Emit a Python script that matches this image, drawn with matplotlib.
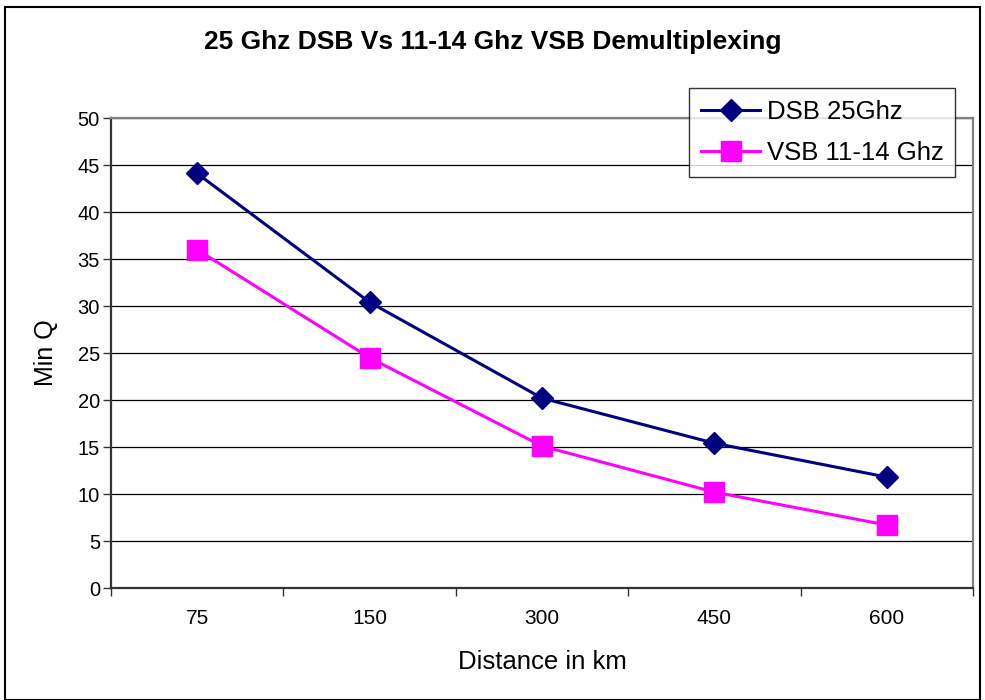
import numpy as np
import matplotlib.pyplot as plt

plt.rcParams['font.family'] = ['Liberation Sans', 'DejaVu Sans']

distances = ['75', '150', '300', '450', '600']
dsb_25ghz = [44.1, 30.4, 20.2, 15.4, 11.8]
vsb_11_14ghz = [36.0, 24.5, 15.1, 10.2, 6.7]

fig = plt.figure(figsize=(9.85, 7.0), dpi=100)
ax = fig.add_axes([0.1127, 0.16, 0.8751, 0.6714])

x = np.arange(len(distances))
ax.plot(x, dsb_25ghz, color='#000080', lw=2.2, marker='D', ms=11,
        label='DSB 25Ghz', zorder=3)
ax.plot(x, vsb_11_14ghz, color='#FF00FF', lw=2.2, marker='s', ms=14,
        label='VSB 11-14 Ghz', zorder=3)

ax.set_xlim(-0.5, len(distances) - 0.5)
ax.set_ylim(0, 50)
ax.set_yticks(np.arange(0, 51, 5))
ax.yaxis.grid(True, color='black', lw=0.9)
ax.set_axisbelow(True)

# labels at category centres, ticks at the boundaries
ax.set_xticks(x)
ax.set_xticklabels(distances)
ax.set_xticks(np.arange(-0.5, len(distances)), minor=True)
ax.tick_params(axis='x', which='major', length=0, pad=15, labelsize=15)
ax.tick_params(axis='x', which='minor', length=6, width=1, color='#333333')
ax.tick_params(axis='y', length=6, width=1, color='#333333', labelsize=14.5, pad=2)

for side in ['left', 'bottom']:
    ax.spines[side].set_color('#333333')
    ax.spines[side].set_linewidth(1.6)
for side in ['top', 'right']:
    ax.spines[side].set_color('#808080')
    ax.spines[side].set_linewidth(1.6)

ax.set_xlabel('Distance in km', fontsize=18.5, labelpad=16)
ax.set_ylabel('Min Q', fontsize=18, labelpad=14)

fig.text(0.5, 0.94, '25 Ghz DSB Vs 11-14 Ghz VSB Demultiplexing',
         ha='center', va='center', fontsize=19, fontweight='bold')

leg = ax.legend(loc='upper right', bbox_to_anchor=(0.979, 1.064), fontsize=18.5,
                frameon=True, fancybox=False, edgecolor='black',
                borderpad=0.45, handlelength=2.3, handletextpad=0.25,
                labelspacing=0.7, borderaxespad=0)
leg.get_frame().set_linewidth(1.0)
leg.set_zorder(5)

# outer chart border
fig.patches.append(plt.Rectangle((0.005, 0.0), 0.99, 0.99, transform=fig.transFigure,
                                 fill=False, edgecolor='black', lw=1.5))

fig.savefig('out.png', dpi=100)
